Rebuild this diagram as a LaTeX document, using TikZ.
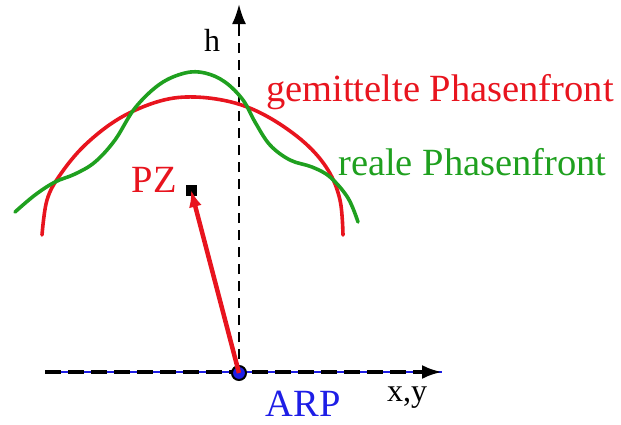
\documentclass[tikz,border=0pt]{standalone}
\usepackage{fontspec}
\setmainfont{Liberation Serif}
\usetikzlibrary{arrows.meta, positioning, calc}
\definecolor{avgred}{HTML}{E8141E}
\definecolor{realgreen}{HTML}{1FA01F}
\definecolor{arpblue}{HTML}{1E1EE6}
\tikzset{
  axis/.style  = {black, line width=2.4pt, dash pattern=on 10pt off 7pt},
  axtip/.style = {-{Latex[length=20pt, width=14pt]}},
  lbl/.style   = {font=\fontsize{38.5}{41}\selectfont, inner sep=0pt},
  slbl/.style  = {font=\fontsize{32}{35}\selectfont, inner sep=0pt},
  front/.style = {line width=3.6pt, line cap=round},
  vec/.style   = {avgred, line width=4.5pt, -{Latex[length=17pt, width=13pt]}},
}

\begin{document}
\begin{tikzpicture}[x=1pt, y=-1pt]
\useasboundingbox (0,0) rectangle (621,424);

% Achsen
\coordinate (hbot) at (239,376);
\coordinate (htop) at (239,4);
\coordinate (xl) at (45,372);
\coordinate (xr) at (442,372);
\draw[arpblue, line width=1.6pt] (xl) -- (xr);
\draw[axis, line width=4.5pt, dash pattern=on 16pt off 7pt] (xl) -- ($(xr)+(-22,0)$) coordinate (xe);
\draw[axtip, line width=3.5pt] (xe) -- (xr);
\draw[axis] (hbot) -- ($(htop)+(0,26)$) coordinate (he);
\draw[axtip, line width=2.5pt] (he) -- (htop);
\node[slbl] (h) at (212,40) {h};
\node[slbl] (xy) at (407,398) {x,y};

% Phasenfronten
\draw[front, avgred] plot[smooth, tension=0.6] coordinates {
  (42,235) (47,200) (60,175) (85,145) (120,118) (160,101) (195,97)
  (235,103) (270,118) (305,143) (328,170) (340,200) (343,235)};
\draw[front, realgreen] plot[smooth, tension=0.6] coordinates {
  (15,212) (35,195) (55,182) (75,174) (95,162) (115,140) (135,108)
  (160,84) (185,73) (205,73) (225,82) (243,100) (255,122) (270,145)
  (290,160) (312,167) (330,177) (348,198) (358,222)};
\node[lbl, avgred, anchor=west] (gem) at (266,92) {gemittelte Phasenfront};
\node[lbl, realgreen, anchor=west] (real) at (338,162) {reale Phasenfront};

% Punkte
\node[fill=black, minimum size=11pt, inner sep=0pt] (pz) at (191,190) {};
\node[lbl, avgred, anchor=east] (pzl) at (177,180) {PZ};
\node[circle, fill=arpblue, draw=black, line width=2pt,
      minimum size=14pt, inner sep=0pt] (arp) at (239,373) {};
\node[lbl, arpblue, anchor=base] (arpl) at (303,416) {ARP};

\draw[vec] (arp.center) -- (pz.center);
\end{tikzpicture}
\end{document}
